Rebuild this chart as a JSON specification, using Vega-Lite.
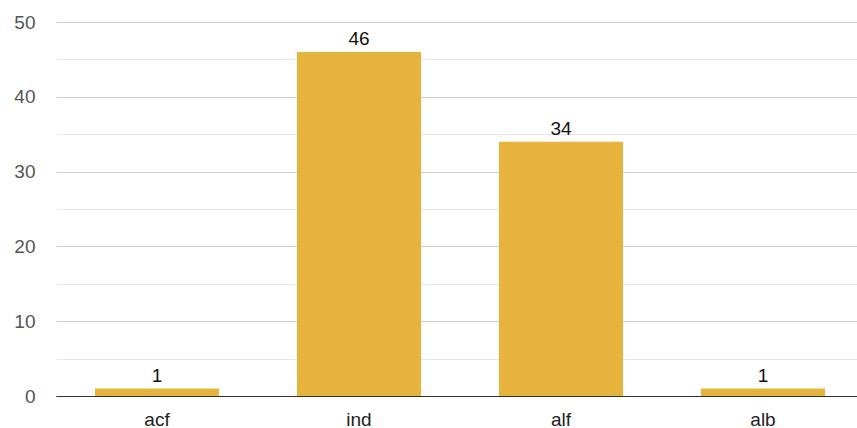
{
  "$schema": "https://vega.github.io/schema/vega-lite/v6.json",
  "width": 801,
  "height": 374,
  "autosize": {"type": "none"},
  "padding": {"left": 56, "top": 22, "right": 0, "bottom": 32},
  "background": "white",
  "config": {
    "view": {"stroke": null},
    "font": "Liberation Sans"
  },
  "data": {
    "values": [
      {"category": "acf", "count": 1},
      {"category": "ind", "count": 46},
      {"category": "alf", "count": 34},
      {"category": "alb", "count": 1}
    ]
  },
  "encoding": {
    "x": {
      "field": "category",
      "type": "nominal",
      "sort": null,
      "scale": {"range": [0, 808], "paddingInner": 0.386, "paddingOuter": 0.193},
      "axis": {
        "title": null,
        "labelAngle": 0,
        "labelFontSize": 19,
        "labelColor": "#222",
        "labelPadding": 14,
        "ticks": false,
        "domainColor": "#333",
        "domainWidth": 1.2
      }
    },
    "y": {
      "field": "count",
      "type": "quantitative",
      "scale": {"domain": [0, 50], "nice": false},
      "axis": {
        "title": null,
        "values": [0, 5, 10, 15, 20, 25, 30, 35, 40, 45, 50],
        "labelExpr": "datum.value % 10 === 0 ? datum.label : ''",
        "labelFontSize": 19,
        "labelColor": "#555",
        "labelPadding": 21,
        "ticks": false,
        "domain": false,
        "gridColor": {
          "condition": {"test": "datum.value % 10 === 0", "value": "#cfcfcf"},
          "value": "#e8e8e8"
        },
        "gridWidth": 1
      }
    }
  },
  "layer": [
    {"mark": {"type": "bar", "color": "#E6B43D"}},
    {
      "mark": {"type": "text", "baseline": "alphabetic", "dy": -7, "fontSize": 19, "color": "#111"},
      "encoding": {"text": {"field": "count", "type": "quantitative"}}
    }
  ]
}
